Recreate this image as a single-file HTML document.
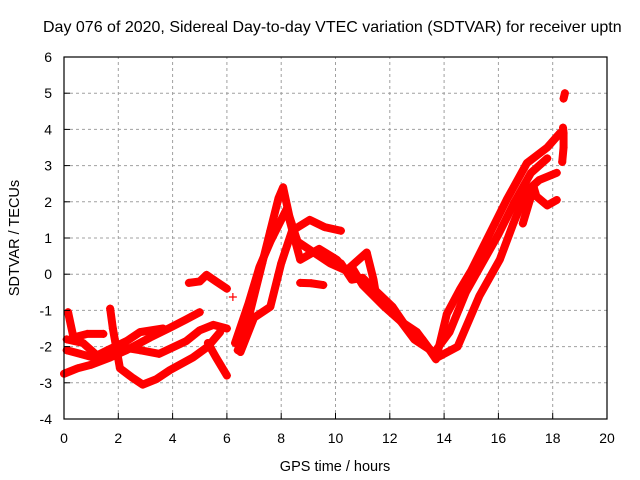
<!DOCTYPE html>
<html><head><meta charset="utf-8"><style>
body{margin:0;background:#fff;}
svg{display:block;font-family:"Liberation Sans",sans-serif;}
</style></head><body>
<svg id="chart" width="640" height="480" viewBox="0 0 640 480">
<rect x="0" y="0" width="640" height="480" fill="#fff"/>
<text x="43" y="32" font-size="16" fill="#000">Day 076 of 2020, Sidereal Day-to-day VTEC variation (SDTVAR) for receiver uptn</text>
<g id="grid"></g>
<g id="series"></g>
<rect x="64" y="57" width="543" height="362" fill="none" stroke="#000" stroke-width="1.2"/>
<g id="axes"></g>
<text x="335" y="471" font-size="14.5" text-anchor="middle">GPS time / hours</text>
<text transform="translate(19,238) rotate(-90)" font-size="14.5" text-anchor="middle">SDTVAR / TECUs</text>
</svg>
<script>
const xTicks=[0,2,4,6,8,10,12,14,16,18,20];
const yTicks=[-4,-3,-2,-1,0,1,2,3,4,5,6];
const track1=[[0,-2.75],[0.5,-2.6],[1,-2.5],[1.7,-2.3],[2.3,-2.1],[3.17,-1.75],[3.9,-1.48],[4.5,-1.25],[5.0,-1.05]];
const track2=[[1.7,-0.95],[1.8,-1.5],[2.06,-2.6],[2.5,-2.85],[2.9,-3.05],[3.4,-2.9],[3.9,-2.65],[4.75,-2.3],[5.3,-2.0],[5.75,-1.6]];
const track3=[[0.15,-1.05],[0.35,-1.75],[0.85,-1.65],[1.45,-1.65]];
const track4=[[0.1,-2.1],[0.6,-2.2],[1.07,-2.3],[1.6,-2.1],[2.3,-1.85],[2.8,-1.6],[3.65,-1.5]];
const track5=[[0.1,-1.8],[0.7,-1.9],[1.3,-2.3],[2.0,-2.0],[2.8,-2.1],[3.5,-2.2],[4.5,-1.85],[5.0,-1.55],[5.5,-1.4],[6.0,-1.5]];
const track6=[[4.6,-0.24],[5.0,-0.2],[5.25,-0.02],[5.6,-0.2],[6.0,-0.4]];
const track7=[[5.3,-1.9],[5.6,-2.3],[6.0,-2.8]];
const track8=[[6.4,-2.1],[6.7,-1.5],[7.0,-0.6],[7.3,0.3],[7.6,1.2],[7.9,2.1],[8.07,2.4],[8.3,1.6],[8.6,0.9],[9.0,0.7],[9.4,0.5],[9.8,0.3],[10.4,0.1]];
const track9=[[6.5,-2.15],[7.0,-1.2],[7.6,-0.9],[8.0,0.3],[8.4,1.2],[9.05,1.5],[9.6,1.3],[10.2,1.2]];
const track10=[[6.3,-1.9],[6.8,-0.8],[7.2,0.2],[7.6,0.9],[8.2,1.8],[8.7,0.4],[9.4,0.7],[10.05,0.4],[10.4,0.1]];
const track11=[[8.7,-0.24],[9.1,-0.25],[9.55,-0.3]];
const track12=[[10.2,0.3],[10.6,-0.15],[11.0,-0.1],[11.4,-0.4],[12.1,-0.9],[12.6,-1.45],[13.2,-1.8],[13.7,-2.35],[14.1,-1.1],[14.6,-0.4],[15.0,0.1],[15.6,1.0],[16.3,2.05],[17.05,3.07],[17.8,3.5],[18.27,3.9]];
const track13=[[10.4,0.1],[11.15,0.6],[11.4,-0.15],[11.5,-0.6],[12.3,-1.2],[12.9,-1.8],[13.5,-2.1],[13.75,-2.3],[14.5,-2.0],[15.3,-0.6],[16.05,0.4],[16.55,1.4],[17.05,2.3],[17.5,2.6],[18.15,2.8]];
const track14=[[16.9,1.4],[17.3,2.4],[17.4,2.15],[17.8,1.9],[18.15,2.05]];
const track15=[[18.35,3.1],[18.4,3.5],[18.4,3.9],[18.38,4.05]];
const track16=[[18.4,4.85],[18.45,5.0]];
const track17=[[10.6,0.2],[11.0,-0.3],[11.8,-0.9],[12.4,-1.3],[13.0,-1.6],[13.6,-2.2],[14.2,-1.6],[14.8,-0.5],[15.4,0.3],[16.0,1.1],[16.6,2.0],[17.2,2.8],[17.8,3.2]];
const singles=[[6.22,-0.63]];
const tracks=[track1,track2,track3,track4,track5,track6,track7,track8,track9,track10,track11,track12,track13,track14,track15,track16,track17];

const X0=64,X1=607,Y0=419,Y1=57;
const xs=t=>X0+(t-0)/(20-0)*(X1-X0);
const ys=v=>Y0-(v+4)/(6+4)*(Y0-Y1);
const NS="http://www.w3.org/2000/svg";
const grid=document.getElementById('grid'),axes=document.getElementById('axes'),ser=document.getElementById('series');
function mk(tag,attrs,parent){const e=document.createElementNS(NS,tag);for(const k in attrs)e.setAttribute(k,attrs[k]);parent.appendChild(e);return e;}
xTicks.forEach(t=>{
  const x=xs(t);
  if(t>0&&t<20){const g=mk('line',{x1:x,y1:Y0,x2:x,y2:Y1,stroke:'#a0a0a0','stroke-dasharray':'3,3'},grid);
  
  }
  const tk=mk('line',{x1:x,y1:Y0,x2:x,y2:Y0-6,stroke:'#000'},axes);
  
  
  const lb=mk('text',{x:x,y:443,'font-size':'14','text-anchor':'middle'},axes);lb.textContent=t;
  
  
});
yTicks.forEach(v=>{
  const y=ys(v);
  if(v>-4&&v<6){const g=mk('line',{x1:X0,y1:y,x2:X1,y2:y,stroke:'#a0a0a0','stroke-dasharray':'3,3'},grid);
  
  }
  const tk=mk('line',{x1:X0,y1:y,x2:X0+6,y2:y,stroke:'#000'},axes);
  
  
  const lb=mk('text',{x:52,y:y+5,'font-size':'14','text-anchor':'end'},axes);lb.textContent=v;
  
  
});
function plus(t,v){
  const x=xs(t),y=ys(v);
  const p=mk('path',{d:`M${x-4},${y}H${x+4}M${x},${y-4}V${y+4}`,stroke:'#f00','stroke-width':1.2},ser);
  
  
}
tracks.forEach(tr=>{
  const pl=mk('polyline',{points:tr.map(p=>xs(p[0])+','+ys(p[1])).join(' '),fill:'none',stroke:'#f00','stroke-width':8,'stroke-linejoin':'round','stroke-linecap':'round'},ser);
  
  
  tr.forEach(p=>plus(p[0],p[1]));
});
singles.forEach(p=>plus(p[0],p[1]));
</script>
</body></html>
